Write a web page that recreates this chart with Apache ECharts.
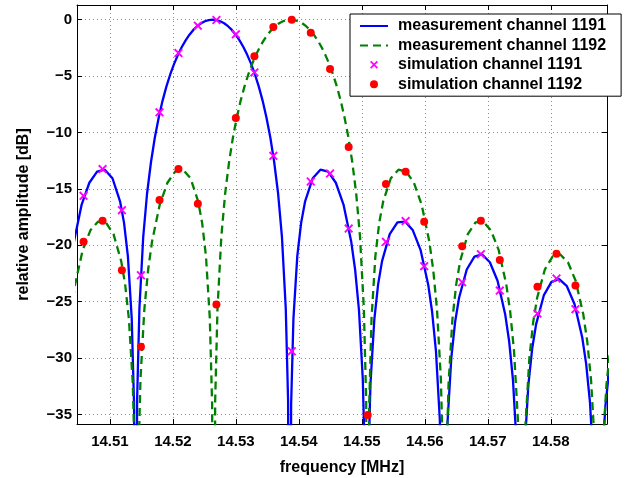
<!DOCTYPE html>
<html>
<head>
<meta charset="utf-8">
<script src="https://cdn.jsdelivr.net/npm/echarts@6/dist/echarts.min.js"></script>
<style>html,body{margin:0;padding:0;background:#fff}#c{width:629px;height:478px}</style>
</head>
<body>
<div id="c"></div>
<script>
// measurement channel 1191 (frequency in MHz, amplitude in dB)
const blueFreq = [14.50367,14.50429,14.50551,14.50673,14.50796,14.50918,14.51040,14.51162,14.51224,14.51285,14.51346,14.51383,
14.51407,
14.51431,14.51468,14.51529,14.51590,14.51652,14.51713,14.51774,14.51835,14.51896,14.51957,14.52019,14.52080,14.52141,14.52202,14.52263,14.52324,14.52385,14.52447,14.52508,14.52569,
14.52630,
14.52691,14.52752,14.52813,14.52875,14.52936,14.52997,14.53058,14.53119,14.53180,14.53242,14.53303,14.53364,14.53425,14.53486,14.53547,14.53608,14.53670,14.53731,14.53792,14.53829,
14.53853,
14.53877,14.53914,14.53975,14.54036,14.54098,14.54220,14.54342,14.54465,14.54587,14.54709,14.54831,14.54893,14.54954,14.55015,14.55052,
14.55076,
14.55100,14.55137,14.55198,14.55259,14.55321,14.55443,14.55565,14.55688,14.55810,14.55932,14.56054,14.56116,14.56177,14.56238,14.56275,
14.56299,
14.56323,14.56360,14.56421,14.56482,14.56544,14.56666,14.56788,14.56911,14.57033,14.57155,14.57277,14.57339,14.57400,14.57461,14.57498,
14.57522,
14.57546,14.57583,14.57644,14.57705,14.57767,14.57889,14.58011,14.58134,14.58256,14.58378,14.58500,14.58562,14.58623,14.58684,14.58721,
14.58745,
14.58769,14.58806,14.58867,14.58928];
const blueDb = [-22.15,-19.66,-16.39,-14.46,-13.47,-13.30,-14.06,-16.14,-18.02,-20.97,-26.48,-34.16,
-80,
-33.81,-25.61,-19.23,-15.39,-12.62,-10.45,-8.69,-7.20,-5.94,-4.86,-3.92,-3.12,-2.42,-1.83,-1.33,-0.91,-0.58,-0.32,-0.14,-0.04,
0,
-0.04,-0.14,-0.32,-0.58,-0.91,-1.33,-1.83,-2.42,-3.12,-3.92,-4.86,-5.94,-7.20,-8.69,-10.45,-12.62,-15.39,-19.23,-25.61,-33.81,
-80,
-34.16,-26.48,-20.97,-18.02,-16.14,-14.06,-13.30,-13.47,-14.46,-16.39,-19.66,-22.15,-25.72,-31.86,-39.92,
-80,
-40.09,-32.29,-26.59,-23.45,-21.41,-19.02,-17.98,-17.90,-18.68,-20.41,-23.50,-25.90,-29.39,-35.45,-43.47,
-80,
-43.59,-35.74,-29.97,-26.77,-24.66,-22.15,-21.01,-20.82,-21.51,-23.15,-26.15,-28.51,-31.96,-37.99,-45.98,
-80,
-46.07,-38.21,-32.40,-29.16,-27.02,-24.45,-23.25,-23.01,-23.63,-25.23,-28.18,-30.52,-33.95,-39.95,-47.93,
-80,
-48.00,-40.12,-34.29,-31.04];

// measurement channel 1192
const greenFreq = [14.50384,14.50446,14.50568,14.50690,14.50813,14.50935,14.51057,14.51179,14.51241,14.51302,14.51363,14.51400,
14.51424,
14.51448,14.51485,14.51546,14.51607,14.51669,14.51791,14.51913,14.52036,14.52158,14.52280,14.52402,14.52464,14.52525,14.52586,14.52623,
14.52647,
14.52671,14.52708,14.52769,14.52830,14.52892,14.52953,14.53014,14.53075,14.53136,14.53197,14.53259,14.53320,14.53381,14.53442,14.53503,14.53564,14.53625,14.53687,14.53748,14.53809,
14.53870,
14.53931,14.53992,14.54053,14.54115,14.54176,14.54237,14.54298,14.54359,14.54420,14.54482,14.54543,14.54604,14.54665,14.54726,14.54787,14.54848,14.54910,14.54971,14.55032,14.55069,
14.55093,
14.55117,14.55154,14.55215,14.55276,14.55338,14.55460,14.55582,14.55705,14.55827,14.55949,14.56071,14.56133,14.56194,14.56255,14.56292,
14.56316,
14.56340,14.56377,14.56438,14.56499,14.56561,14.56683,14.56805,14.56928,14.57050,14.57172,14.57294,14.57356,14.57417,14.57478,14.57515,
14.57539,
14.57563,14.57600,14.57661,14.57722,14.57784,14.57906,14.58028,14.58151,14.58273,14.58395,14.58517,14.58579,14.58640,14.58701,14.58738,
14.58762,
14.58786,14.58823,14.58884,14.58945];
const greenDb = [-25.90,-23.50,-20.41,-18.68,-17.90,-17.98,-19.02,-21.41,-23.45,-26.59,-32.29,-40.09,
-80,
-39.92,-31.86,-25.72,-22.15,-19.66,-16.39,-14.46,-13.47,-13.30,-14.06,-16.14,-18.02,-20.97,-26.48,-34.16,
-80,
-33.81,-25.61,-19.23,-15.39,-12.62,-10.45,-8.69,-7.20,-5.94,-4.86,-3.92,-3.12,-2.42,-1.83,-1.33,-0.91,-0.58,-0.32,-0.14,-0.04,
0,
-0.04,-0.14,-0.32,-0.58,-0.91,-1.33,-1.83,-2.42,-3.12,-3.92,-4.86,-5.94,-7.20,-8.69,-10.45,-12.62,-15.39,-19.23,-25.61,-33.81,
-80,
-34.16,-26.48,-20.97,-18.02,-16.14,-14.06,-13.30,-13.47,-14.46,-16.39,-19.66,-22.15,-25.72,-31.86,-39.92,
-80,
-40.09,-32.29,-26.59,-23.45,-21.41,-19.02,-17.98,-17.90,-18.68,-20.41,-23.50,-25.90,-29.39,-35.45,-43.47,
-80,
-43.59,-35.74,-29.97,-26.77,-24.66,-22.15,-21.01,-20.82,-21.51,-23.15,-26.15,-28.51,-31.96,-37.99,-45.98,
-80,
-46.07,-38.21,-32.40,-29.16];

// simulation points (shared frequency grid); null = below the plotted range
const simFreq = [14.50581,14.50883,14.51190,14.51492,14.51787,14.52088,14.52396,14.52691,14.52999,14.53294,14.53595,14.53887,14.54189,14.54495,14.54791,14.55093,14.55383,14.55695,14.55990,14.56289,14.56593,14.56890,14.57191,14.57490,14.57789,14.58091,14.58392];
const sim1191 = [-15.62,-13.25,-16.89,-22.66,-8.22,-2.96,-0.53,-0.03,-1.30,-4.68,-12.07,-29.40,-14.35,-13.64,-18.52,null,-19.70,-17.86,-21.86,null,-23.28,-20.79,-24.02,null,-26.06,-22.95,-25.67];
const sim1192 = [-19.70,-17.84,-22.21,-28.99,-16.00,-13.25,-16.33,-25.26,-8.73,-3.25,-0.65,0.00,-1.15,-4.38,-11.30,-35.05,-14.58,-13.49,-17.92,null,-20.08,-17.84,-21.32,null,-23.69,-20.76,-23.57];

const seriesNames = ['measurement channel 1191','measurement channel 1192','simulation channel 1191','simulation channel 1192'];
const xRange = [14.50477, 14.58893];
const yRange = [-35.85, 1.3];

const FONT = "'Liberation Sans', Arial, Helvetica, sans-serif";
const pairs = (xs, ys) => xs.map((x, i) => [x, ys[i]]).filter(p => p[1] !== null);
const axisText = {fontFamily: FONT, fontWeight: 'bold', fontSize: 15, color: '#000'};
const cross = 'path://M0,1.5L1.5,0L5,3.5L8.5,0L10,1.5L6.5,5L10,8.5L8.5,10L5,6.5L1.5,10L0,8.5L3.5,5Z';
const noMarker = {color: 'rgba(0,0,0,0)', borderColor: 'rgba(0,0,0,0)', borderWidth: 0, opacity: 0};

const chart = echarts.init(document.getElementById('c'), null, {renderer: 'canvas'});
chart.setOption({
  animation: false,
  backgroundColor: '#fff',
  grid: {left: 77, right: 22, top: 5, bottom: 54, containLabel: false, outerBoundsMode: 'none'},
  legend: {
    orient: 'vertical', left: 350, top: 14,
    backgroundColor: '#fff', borderColor: '#000', borderWidth: 1, borderRadius: 0,
    padding: [4, 15, 4, 9], itemWidth: 28, itemHeight: 8, itemGap: 3.4,
    textStyle: {fontFamily: FONT, fontWeight: 'bold', fontSize: 16, color: '#000', padding: [0, 0, 0, 5]},
    data: [
      {name: seriesNames[0], itemStyle: noMarker},
      {name: seriesNames[1], itemStyle: noMarker},
      {name: seriesNames[2]},
      {name: seriesNames[3]}
    ]
  },
  xAxis: [{
    type: 'value', min: xRange[0], max: xRange[1], splitNumber: 8, position: 'bottom',
    name: 'frequency [MHz]', nameLocation: 'middle', nameGap: 36,
    nameTextStyle: {fontFamily: FONT, fontWeight: 'bold', fontSize: 16, color: '#000'},
    axisLine: {show: true, onZero: false, lineStyle: {color: '#000', width: 1}},
    axisTick: {show: true, inside: true, length: 5, lineStyle: {color: '#000'}},
    axisLabel: Object.assign({showMinLabel: false, showMaxLabel: false, margin: 10, formatter: v => v.toFixed(2)}, axisText),
    splitLine: {show: true, lineStyle: {color: '#8c8c8c', type: [1, 3], width: 1}}
  }, {
    type: 'value', min: xRange[0], max: xRange[1], splitNumber: 8, position: 'top',
    axisLine: {show: true, onZero: false, lineStyle: {color: '#000', width: 1}},
    axisTick: {show: true, inside: true, length: 5, lineStyle: {color: '#000'}},
    axisLabel: {show: false}, splitLine: {show: false}
  }],
  yAxis: [{
    type: 'value', min: yRange[0], max: yRange[1], splitNumber: 8, position: 'left',
    name: 'relative amplitude [dB]', nameLocation: 'middle', nameGap: 45,
    nameTextStyle: {fontFamily: FONT, fontWeight: 'bold', fontSize: 16, color: '#000'},
    axisLine: {show: true, onZero: false, lineStyle: {color: '#000', width: 1}},
    axisTick: {show: true, inside: true, length: 5, lineStyle: {color: '#000'}},
    axisLabel: Object.assign({showMinLabel: false, showMaxLabel: false, margin: 5, formatter: v => String(v).replace('-', '\u2212')}, axisText),
    splitLine: {show: true, lineStyle: {color: '#8c8c8c', type: [1, 3], width: 1}}
  }, {
    type: 'value', min: yRange[0], max: yRange[1], splitNumber: 8, position: 'right',
    axisLine: {show: true, onZero: false, lineStyle: {color: '#000', width: 1}},
    axisTick: {show: true, inside: true, length: 5, lineStyle: {color: '#000'}},
    axisLabel: {show: false}, splitLine: {show: false}
  }],
  series: [{
    name: seriesNames[0], type: 'line', xAxisIndex: 0, yAxisIndex: 0, z: 2,
    data: pairs(blueFreq, blueDb), symbol: 'none', clip: true,
    lineStyle: {color: '#0000ff', width: 2.3}, itemStyle: {color: '#0000ff'}
  }, {
    name: seriesNames[1], type: 'line', xAxisIndex: 0, yAxisIndex: 0, z: 2,
    data: pairs(greenFreq, greenDb), symbol: 'none', clip: true,
    lineStyle: {color: '#008000', width: 2.3, type: [8, 5]}, itemStyle: {color: '#008000'}
  }, {
    name: seriesNames[2], type: 'scatter', xAxisIndex: 0, yAxisIndex: 0, z: 3,
    data: pairs(simFreq, sim1191), symbol: cross, symbolSize: 9,
    itemStyle: {color: '#ff00ff', opacity: 1}
  }, {
    name: seriesNames[3], type: 'scatter', xAxisIndex: 0, yAxisIndex: 0, z: 4,
    data: pairs(simFreq, sim1192), symbol: 'circle', symbolSize: 8,
    itemStyle: {color: '#ff0000', opacity: 1}
  }]
});
</script>
</body>
</html>
